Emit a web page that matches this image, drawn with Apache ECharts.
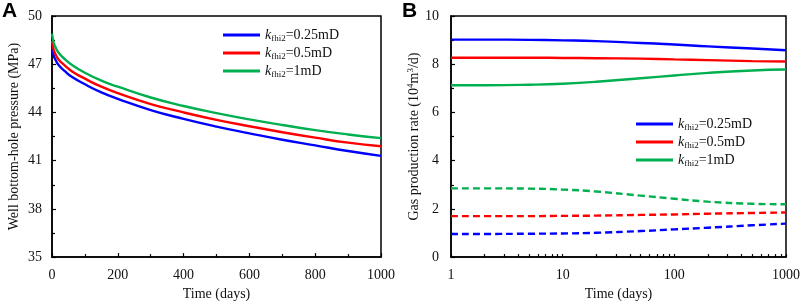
<!DOCTYPE html>
<html>
<head>
<meta charset="utf-8">
<script src="https://cdn.jsdelivr.net/npm/echarts@6/dist/echarts.min.js"></script>
<style>
  html, body { margin: 0; padding: 0; background: #fff; }
  #chart { width: 803px; height: 306px; }
</style>
</head>
<body>
<div id="chart"></div>
<script>
// panel A: bottom-hole pressure vs time
const timesA = [0, 5, 10, 20, 40, 60, 100, 150, 200, 300, 400, 500, 600, 700, 800, 900, 1000];
const pressBlue = [48.1, 47.55, 47.3, 46.95, 46.55, 46.22, 45.75, 45.25, 44.85, 44.15, 43.6, 43.12, 42.7, 42.3, 41.95, 41.6, 41.3];
const pressRed = [48.45, 47.9, 47.65, 47.3, 46.9, 46.57, 46.1, 45.6, 45.2, 44.52, 44.0, 43.54, 43.14, 42.77, 42.43, 42.12, 41.9];
const pressGreen = [48.9, 48.35, 48.08, 47.72, 47.3, 46.97, 46.47, 45.98, 45.6, 44.93, 44.4, 43.96, 43.57, 43.22, 42.9, 42.63, 42.4];

// panel B: gas rate vs time (log)
const timesB = [1, 2, 5, 10, 20, 50, 100, 200, 500, 1000];
const rateBlue = [9.02, 9.02, 9.01, 8.99, 8.96, 8.88, 8.82, 8.74, 8.65, 8.58];
const rateRed = [8.27, 8.27, 8.27, 8.26, 8.25, 8.23, 8.2, 8.17, 8.13, 8.11];
const rateGreen = [7.13, 7.13, 7.15, 7.19, 7.27, 7.42, 7.53, 7.64, 7.74, 7.78];
const rateBlueDash = [0.96, 0.96, 0.97, 0.98, 1.01, 1.08, 1.15, 1.22, 1.32, 1.39];
const rateRedDash = [1.70, 1.70, 1.70, 1.71, 1.72, 1.75, 1.77, 1.80, 1.83, 1.85];
const rateGreenDash = [2.85, 2.85, 2.84, 2.80, 2.72, 2.55, 2.42, 2.30, 2.21, 2.19];

const legendNames = ['0.25mD', '0.5mD', '1mD'];
const logTicks = [1, 2, 3, 4, 5, 6, 7, 8, 9, 10, 20, 30, 40, 50, 60, 70, 80, 90, 100, 200, 300, 400, 500, 600, 700, 800, 900, 1000];

const BLUE = '#0000ff', RED = '#ff0000', GREEN = '#00b050';
const serif = 'Liberation Serif';

const pairs = (xs, ys) => xs.map((x, i) => [x, ys[i]]);

const chart = echarts.init(document.getElementById('chart'), null, { renderer: 'canvas' });

const axisBase = {
  axisLine: { show: true, onZero: false, lineStyle: { color: '#000', width: 1.5 } },
  axisTick: { show: true, inside: true, length: 4, lineStyle: { color: '#000', width: 1.2 } },
  minorTick: { show: true, splitNumber: 2, length: 3, lineStyle: { color: '#000', width: 1.2 } },
  splitLine: { show: false },
  axisLabel: { color: '#111', fontFamily: serif, fontSize: 14, formatter: v => String(v) },
  nameTextStyle: { color: '#111', fontFamily: serif, fontSize: 14 },
  nameLocation: 'middle'
};

const legendRich = {
  k: { fontFamily: serif, fontStyle: 'italic', fontSize: 14, color: '#111' },
  s: { fontFamily: serif, fontSize: 9, color: '#111', padding: [7, 0, 0, 0] },
  n: { fontFamily: serif, fontSize: 14, color: '#111' }
};
const legendFmt = name => '{k|k}{s|fhi2}{n|=' + name + '}';

const legendBase = {
  data: legendNames, orient: 'vertical', padding: 0, icon: 'rect',
  itemWidth: 37, itemHeight: 3, itemGap: 3,
  formatter: legendFmt, textStyle: { rich: legendRich }
};

const line = (name, data, color, xi, dashed) => ({
  name: name,
  type: 'line',
  xAxisIndex: xi,
  yAxisIndex: xi,
  data: data,
  symbol: 'none',
  smooth: 0.5,
  lineStyle: { color: color, width: 2.4, type: dashed ? [7, 4] : 'solid' },
  itemStyle: { color: color }
});

const option = {
  backgroundColor: '#fff',
  animation: false,
  graphic: [
    { type: 'text', left: 2, top: 1, style: { text: 'A', font: 'bold 21px "Liberation Sans"', fill: '#000' } },
    { type: 'text', left: 402, top: 1, style: { text: 'B', font: 'bold 21px "Liberation Sans"', fill: '#000' } }
  ],
  grid: [
    { left: 52, right: 422, top: 16, bottom: 43, show: true, borderColor: '#000', borderWidth: 1.5 },
    { left: 451, right: 16, top: 16, bottom: 43, show: true, borderColor: '#000', borderWidth: 1.5 }
  ],
  legend: [
    Object.assign({}, legendBase, { left: 223, top: 28 }),
    Object.assign({}, legendBase, { left: 636, top: 117 })
  ],
  xAxis: [
    Object.assign({}, axisBase, {
      gridIndex: 0, type: 'value', min: 0, max: 1000, interval: 200,
      name: 'Time (days)', nameGap: 27,
      axisLabel: Object.assign({}, axisBase.axisLabel, { margin: 11 })
    }),
    Object.assign({}, axisBase, {
      gridIndex: 1, type: 'log', logBase: 10, min: 1, max: 1000,
      name: 'Time (days)', nameGap: 27,
      axisTick: Object.assign({}, axisBase.axisTick, { length: 3, customValues: logTicks }),
      minorTick: { show: false },
      axisLabel: Object.assign({}, axisBase.axisLabel, { margin: 11 })
    })
  ],
  yAxis: [
    Object.assign({}, axisBase, {
      gridIndex: 0, type: 'value', min: 35, max: 50, interval: 3,
      name: 'Well bottom-hole pressure (MPa)', nameGap: 31,
      axisLabel: Object.assign({}, axisBase.axisLabel, { margin: 10 })
    }),
    Object.assign({}, axisBase, {
      gridIndex: 1, type: 'value', min: 0, max: 10, interval: 2,
      name: '{n|Gas production rate (10}{p|4}{n|m}{p|3}{n|/d)}', nameGap: 24,
      nameTextStyle: {
        rich: {
          n: { fontFamily: serif, fontSize: 14, color: '#111' },
          p: { fontFamily: serif, fontSize: 9, color: '#111', padding: [0, 0, 7, 0] }
        }
      },
      axisLabel: Object.assign({}, axisBase.axisLabel, { margin: 12 })
    })
  ],
  series: [
    line('0.25mD', pairs(timesA, pressBlue), BLUE, 0),
    line('0.5mD', pairs(timesA, pressRed), RED, 0),
    line('1mD', pairs(timesA, pressGreen), GREEN, 0),
    line('0.25mD', pairs(timesB, rateBlue), BLUE, 1),
    line('0.5mD', pairs(timesB, rateRed), RED, 1),
    line('1mD', pairs(timesB, rateGreen), GREEN, 1),
    line('0.25mD dashed', pairs(timesB, rateBlueDash), BLUE, 1, true),
    line('0.5mD dashed', pairs(timesB, rateRedDash), RED, 1, true),
    line('1mD dashed', pairs(timesB, rateGreenDash), GREEN, 1, true)
  ]
};

chart.setOption(option);
</script>
</body>
</html>
